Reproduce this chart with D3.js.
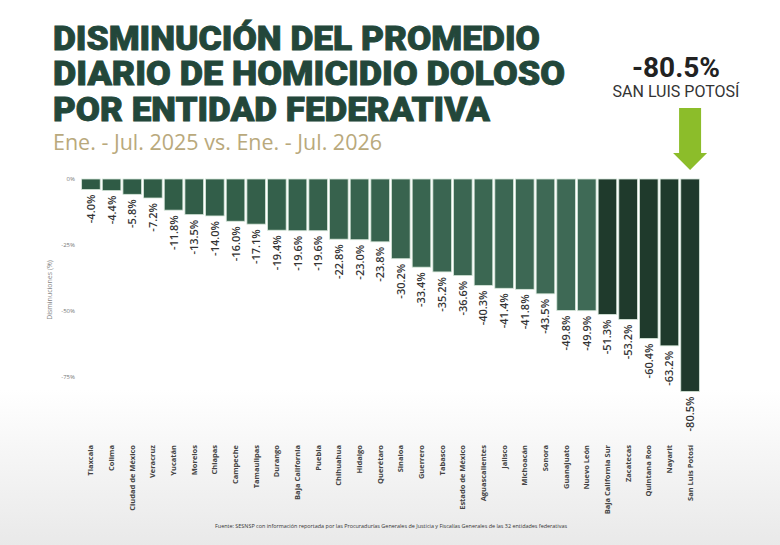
<!DOCTYPE html>
<html>
<head>
<meta charset="utf-8">
<script src="https://cdn.jsdelivr.net/npm/d3@7"></script>
<style>
  body { margin: 0; background: #fff; }
  svg { display: block; }
</style>
</head>
<body>
<script>
// datos
var estados = ["Tlaxcala", "Colima", "Ciudad de México", "Veracruz", "Yucatán", "Morelos",
  "Chiapas", "Campeche", "Tamaulipas", "Durango", "Baja California", "Puebla", "Chihuahua",
  "Hidalgo", "Querétaro", "Sinaloa", "Guerrero", "Tabasco", "Estado de México",
  "Aguascalientes", "Jalisco", "Michoacán", "Sonora", "Guanajuato", "Nuevo León",
  "Baja California Sur", "Zacatecas", "Quintana Roo", "Nayarit", "San Luis Potosí"];
var disminucion = [-4.0, -4.4, -5.8, -7.2, -11.8, -13.5, -14.0, -16.0, -17.1, -19.4, -19.6,
  -19.6, -22.8, -23.0, -23.8, -30.2, -33.4, -35.2, -36.6, -40.3, -41.4, -41.8, -43.5, -49.8,
  -49.9, -51.3, -53.2, -60.4, -63.2, -80.5];
var destacados = ["Baja California Sur", "Zacatecas", "Quintana Roo", "Nayarit", "San Luis Potosí"];
var yTicks = [0, -25, -50, -75];
var titulo = ["DISMINUCIÓN DEL PROMEDIO", "DIARIO DE HOMICIDIO DOLOSO", "POR ENTIDAD FEDERATIVA"];

var width = 780, height = 545;

var svg = d3.select("body").append("svg")
    .attr("width", width)
    .attr("height", height);

// fondo con degradado gris abajo
var defs = svg.append("defs");
var grad = defs.append("linearGradient")
    .attr("id", "fondo").attr("x1", 0).attr("x2", 0).attr("y1", 0).attr("y2", 1);
grad.append("stop").attr("offset", "0%").attr("stop-color", "#ffffff");
grad.append("stop").attr("offset", "100%").attr("stop-color", "#e9e9e9");
svg.append("rect").attr("width", width).attr("height", height).attr("fill", "#fff");
svg.append("rect").attr("x", 0).attr("y", 390).attr("width", width).attr("height", 155)
    .attr("fill", "url(#fondo)");

// titulo
var tw = [487, 512, 437];
titulo.forEach(function(t, i) {
  svg.append("text")
    .attr("x", 53).attr("y", 49.5 + i * 35.5)
    .attr("textLength", tw[i]).attr("lengthAdjust", "spacingAndGlyphs")
    .style("font-family", "Roboto, sans-serif")
    .style("font-weight", 900)
    .style("font-size", "34px")
    .style("fill", "#23473a")
    .style("stroke", "#23473a")
    .style("stroke-width", 0.9)
    .text(t);
});

svg.append("text")
    .attr("x", 53).attr("y", 150)
    .attr("textLength", 329).attr("lengthAdjust", "spacingAndGlyphs")
    .style("font-family", "'Open Sans', sans-serif")
    .style("font-size", "21px")
    .style("fill", "#b9a97c")
    .text("Ene. - Jul. 2025 vs. Ene. - Jul. 2026");

// anotacion San Luis Potosi
svg.append("text")
    .attr("x", 676).attr("y", 77)
    .attr("text-anchor", "middle")
    .style("font-family", "Roboto, sans-serif")
    .style("font-weight", 700)
    .style("font-size", "28px")
    .style("fill", "#222")
    .text("-80.5%");
svg.append("text")
    .attr("x", 676).attr("y", 97)
    .attr("text-anchor", "middle")
    .style("font-family", "Roboto, sans-serif")
    .style("font-size", "16px")
    .style("fill", "#333")
    .text("SAN LUIS POTOSÍ");

// escalas
var x = d3.scaleBand().domain(estados).range([81, 700]).paddingInner(0.1).paddingOuter(0.03);
var y = d3.scaleLinear().domain([0, -80.5]).range([179, 391.5]);

var shade = d3.scaleLinear().domain([0, 24]).range(["#2e5a44", "#3f6a56"]);

// flecha
var ax = x("San Luis Potosí") + x.bandwidth() / 2;
svg.append("path")
    .attr("d", "M" + (ax - 11) + ",108 L" + (ax + 11) + ",108 L" + (ax + 11) + ",153 L" + (ax + 17) + ",153 L" +
      ax + ",170 L" + (ax - 17) + ",153 L" + (ax - 11) + ",153 Z")
    .attr("fill", "#8cbd2a");

// eje y
svg.append("g")
    .selectAll("text").data(yTicks).join("text")
    .attr("x", 75).attr("y", function(d) { return y(d) + 2; })
    .attr("text-anchor", "end")
    .style("font-family", "'Open Sans', sans-serif")
    .style("font-size", "6px")
    .style("fill", "#777")
    .text(function(d) { return d + "%"; });

svg.append("text")
    .attr("transform", "translate(52," + 290 + ") rotate(-90)")
    .attr("text-anchor", "middle")
    .style("font-family", "'Open Sans', sans-serif")
    .style("font-size", "7px")
    .style("fill", "#888")
    .text("Disminuciones (%)");

// barras
svg.append("g")
    .selectAll("rect").data(estados).join("rect")
    .attr("x", function(d) { return x(d); })
    .attr("y", y(0))
    .attr("width", x.bandwidth())
    .attr("height", function(d, i) { return y(disminucion[i]) - y(0); })
    .attr("fill", function(d, i) { return destacados.indexOf(d) >= 0 ? "#1f3a2c" : shade(i); })
    .attr("stroke", "#d5e6d9")
    .attr("stroke-width", 0.8);

// etiquetas de valor
svg.append("g")
    .selectAll("text").data(estados).join("text")
    .attr("transform", function(d, i) {
      return "translate(" + (x(d) + x.bandwidth() / 2 + 4) + "," + (y(disminucion[i]) + 5) + ") rotate(-90)";
    })
    .attr("text-anchor", "end")
    .style("font-family", "'Open Sans', sans-serif")
    .style("font-weight", 600)
    .style("font-size", "11px")
    .style("fill", "#333")
    .text(function(d, i) { return disminucion[i].toFixed(1) + "%"; });

// etiquetas de estados
svg.append("g")
    .selectAll("text").data(estados).join("text")
    .attr("transform", function(d) {
      return "translate(" + (x(d) + x.bandwidth() / 2 + 2.5) + ",445) rotate(-90)";
    })
    .attr("text-anchor", "end")
    .style("font-family", "'Open Sans', sans-serif")
    .style("font-weight", 700)
    .style("font-size", "7.5px")
    .style("fill", "#444")
    .text(function(d) { return d; });

// fuente
svg.append("text")
    .attr("x", 391).attr("y", 528)
    .attr("text-anchor", "middle")
    .attr("textLength", 352).attr("lengthAdjust", "spacingAndGlyphs")
    .style("font-family", "'Open Sans', sans-serif")
    .style("font-size", "6px")
    .style("fill", "#333")
    .text("Fuente: SESNSP con información reportada por las Procuradurías Generales de Justicia y Fiscalías Generales de las 32 entidades federativas");
</script>
</body>
</html>
